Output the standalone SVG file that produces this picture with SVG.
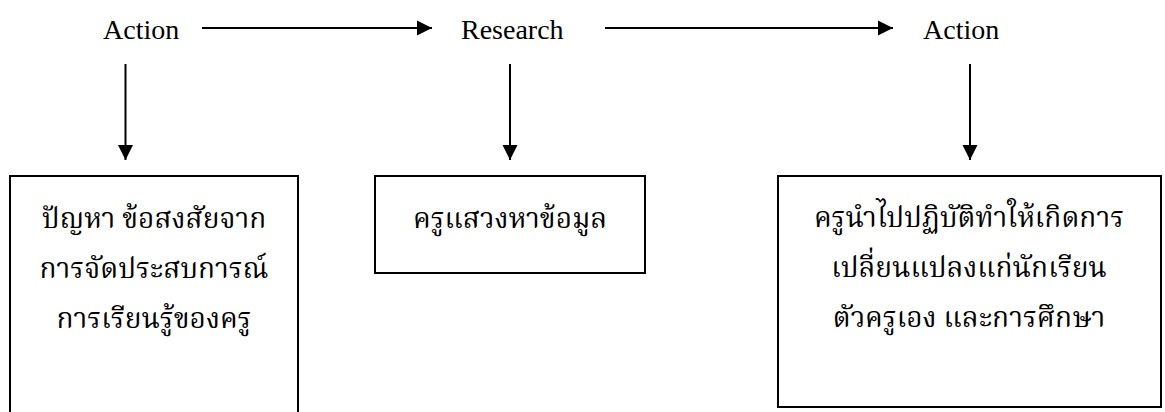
<svg xmlns="http://www.w3.org/2000/svg" width="1165" height="412" viewBox="0 0 1165 412">
<style>
.lbl{font-family:"Liberation Serif","Times New Roman",serif;font-size:28px;fill:#000}
.th{font-family:"Liberation Serif","Noto Serif Thai","Noto Sans Thai",serif;font-size:28px;fill:#000;text-anchor:middle}
.box{fill:#fff;stroke:#000;stroke-width:2}
.ln{stroke:#000;stroke-width:2;fill:none}
</style>
<defs>
<marker id="ah" markerUnits="userSpaceOnUse" markerWidth="16" markerHeight="16" viewBox="0 0 16 16" refX="15" refY="8" orient="auto">
<path d="M0,0.5 L15,8 L0,15.5 Z" fill="#000"/>
</marker>
</defs>
<rect width="1165" height="412" fill="#fff"/>
<g id="action1"><text class="lbl" x="103" y="39">Action</text></g>
<g id="research"><text class="lbl" x="461" y="39">Research</text></g>
<g id="action2"><text class="lbl" x="923" y="39">Action</text></g>
<g id="box1">
<path class="box" d="M10,420 V176 H298 V420"/>
<text class="th" x="154" y="228">ปัญหา ข้อสงสัยจาก</text>
<text class="th" x="154" y="278">การจัดประสบการณ์</text>
<text class="th" x="154" y="328">การเรียนรู้ของครู</text>
</g>
<g id="box2">
<rect class="box" x="375" y="176" width="270" height="97"/>
<text class="th" x="510" y="228">ครูแสวงหาข้อมูล</text>
</g>
<g id="box3">
<rect class="box" x="778" y="176" width="383" height="231"/>
<text class="th" x="969" y="227">ครูนำไปปฏิบัติทำให้เกิดการ</text>
<text class="th" x="969" y="277">เปลี่ยนแปลงแก่นักเรียน</text>
<text class="th" x="969" y="327">ตัวครูเอง และการศึกษา</text>
</g>
<g id="connectors">
<line class="ln" x1="202" y1="28" x2="432" y2="28" marker-end="url(#ah)"/>
<line class="ln" x1="605" y1="28" x2="893" y2="28" marker-end="url(#ah)"/>
<line class="ln" x1="125.5" y1="64" x2="125.5" y2="160" marker-end="url(#ah)"/>
<line class="ln" x1="510" y1="64" x2="510" y2="160" marker-end="url(#ah)"/>
<line class="ln" x1="970" y1="64" x2="970" y2="160" marker-end="url(#ah)"/>
</g>
</svg>
